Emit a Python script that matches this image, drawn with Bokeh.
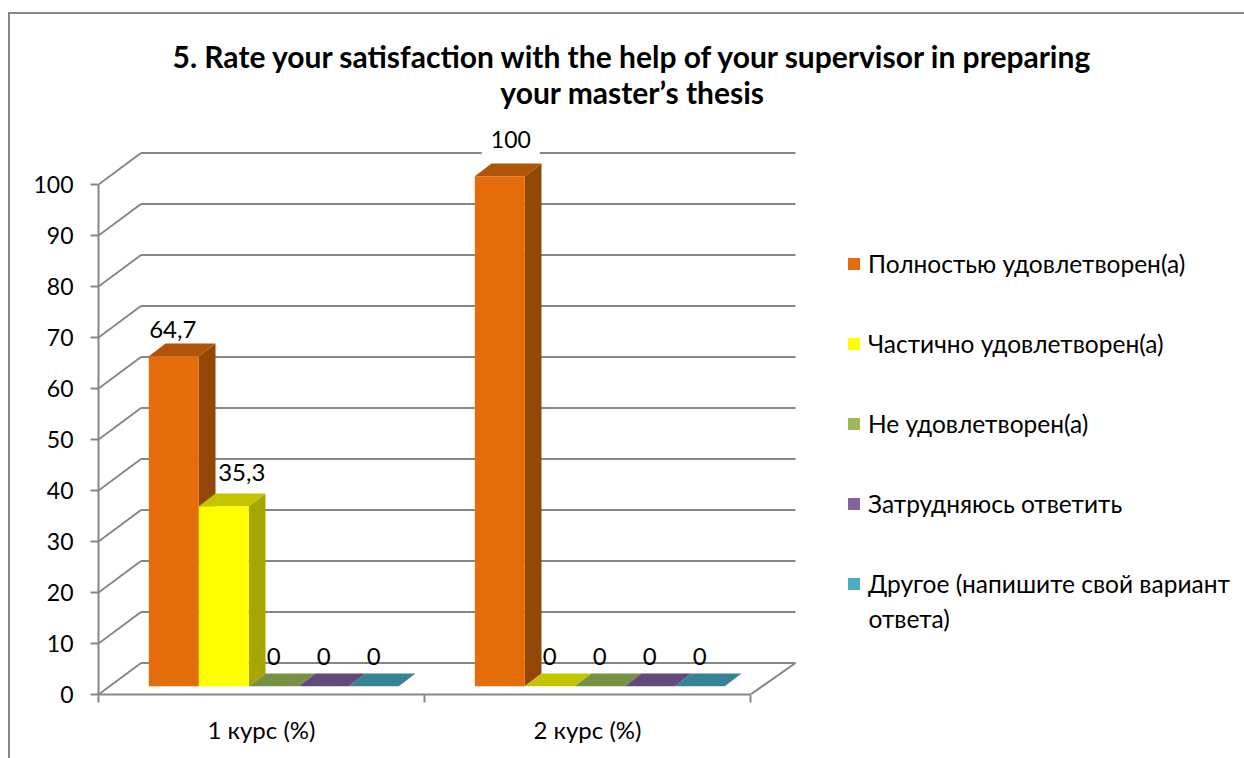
from bokeh.plotting import figure
from bokeh.models import (Range1d, FixedTicker, Legend, LegendItem, Title, InlineStyleSheet,
                          ColumnDataSource)
from bokeh.core.properties import value
from bokeh.embed import file_html
from bokeh.resources import INLINE

title_lines = ["5. Rate your satisfaction with the help of your supervisor in preparing",
               "your master\u2019s thesis"]
categories = ["1 курс (%)", "2 курс (%)"]
series_names = ["Полностью удовлетворен(а)", "Частично удовлетворен(а)", "Не удовлетворен(а)",
                "Затрудняюсь ответить", "Другое (напишите свой вариант"]
legend_wrap = "ответа)"
course1 = [64.7, 35.3, 0, 0, 0]
course2 = [100, 0, 0, 0, 0]
y_ticks = [0, 10, 20, 30, 40, 50, 60, 70, 80, 90, 100]

face = ["#E46C0A", "#FFFF00", "#9BBB59", "#8064A2", "#4BACC6"]
top = ["#B05408", "#C4C400", "#779145", "#624A7B", "#378396"]
side = ["#934707", "#A6A600", "#637A39", "#513E67", "#2E6E7F"]
GREY = "#868686"
FONT = "Lato"
FS = "24px"
LEG_FS = "24.5px"

PX_X, PX_Y = 326.0, 5.1
BAR_W = 50 / PX_X
PAD = 50.3 / PX_X
LIFT = 8.3 / PX_Y
DX, DY = 16.7 / PX_X, 12.7 / PX_Y
WX, WY = 42.5 / PX_X, 31.5 / PX_Y
RX = 45 / PX_X

p = figure(width=1244, height=758, output_backend="svg", toolbar_location=None,
           frame_width=1146, frame_height=619,
           x_range=Range1d(0, 1146 / PX_X), y_range=Range1d(0, 619 / PX_Y),
           min_border_left=98, min_border_right=0, min_border_top=75, min_border_bottom=64,
           outline_line_color=None, background_fill_color="white", border_fill_color="white")
p.grid.visible = False

# walls
p.segment([0] * len(y_ticks), y_ticks, [WX] * len(y_ticks), [v + WY for v in y_ticks],
          line_color=GREY, line_width=2)
p.segment([WX] * len(y_ticks), [v + WY for v in y_ticks], [2 + RX] * len(y_ticks),
          [v + WY for v in y_ticks], line_color=GREY, line_width=2)
p.segment([2], [0], [2 + RX], [WY], line_color=GREY, line_width=2)

legend_items = []
lab_x, lab_y, lab_t, lab_dx, lab_dy = [], [], [], [], []
# manual nudges of the data labels, in pixels
nudges = {(0, 0): (-1, -27), (0, 1): (18, -34), (1, 0): (11, -37)}
for s, name in enumerate(series_names):
    vals = [course1[s], course2[s]]
    lefts = [g + PAD + s * BAR_W for g in range(2)]
    rights = [l + BAR_W for l in lefts]
    base = LIFT
    tops = [v + base for v in vals]
    p.patches([[r, r + DX, r + DX, r] for r in rights],
              [[base, base + DY, t + DY, t] for t in tops], fill_color=side[s], line_color=None)
    p.patches([[l, r, r + DX, l + DX] for l, r in zip(lefts, rights)],
              [[t, t, t + DY, t + DY] for t in tops], fill_color=top[s], line_color=None)
    r = p.quad(left=lefts, right=rights, bottom=[base] * 2, top=tops, fill_color=face[s], line_color=None)
    legend_items.append(LegendItem(label=value(name), renderers=[r]))
    for g, v in enumerate(vals):
        lab_x.append(lefts[g] + BAR_W / 2)
        lab_y.append(tops[g])
        lab_t.append(str(v).replace(".", ",") if v else "0")
        n = nudges.get((g, s), (0, -29.7))
        lab_dx.append(n[0])
        lab_dy.append(n[1])

src = ColumnDataSource(dict(x=lab_x, y=lab_y, t=lab_t, dx=lab_dx, dy=lab_dy))
plain = ColumnDataSource({k: [c for c, t in zip(v, lab_t) if t != "100"] for k, v in src.data.items()})
masked = ColumnDataSource({k: [c for c, t in zip(v, lab_t) if t == "100"] for k, v in src.data.items()})
p.text("x", "y", text="t", source=plain, x_offset="dx", y_offset="dy", text_align="center",
       text_baseline="middle", text_font=value(FONT), text_font_size=FS, text_color="black")
p.text("x", "y", text="t", source=masked, x_offset="dx", y_offset="dy", text_align="center",
       text_baseline="middle", text_font=value(FONT), text_font_size="23px", text_color="black",
       background_fill_color="white", padding=9)

# axes
ya = p.yaxis[0]
ya.ticker = FixedTicker(ticks=y_ticks)
ya.bounds = (0, 100)
ya.major_tick_in, ya.major_tick_out = 0, 8
ya.minor_tick_line_color = None
ya.axis_line_color = ya.major_tick_line_color = GREY
ya.axis_line_width = ya.major_tick_line_width = 2
ya.major_label_standoff = 17
ya.major_label_text_font = FONT
ya.major_label_text_font_size = "23px"
ya.major_label_text_color = "black"

xa = p.xaxis[0]
xa.ticker = FixedTicker(ticks=[0.5, 1.5], minor_ticks=[0, 1, 2])
xa.major_label_overrides = {0.5: categories[0], 1.5: categories[1]}
xa.bounds = (0, 2)
xa.major_tick_in, xa.major_tick_out = 0, 0
xa.minor_tick_in, xa.minor_tick_out = 0, 8
xa.axis_line_color = xa.minor_tick_line_color = GREY
xa.axis_line_width = xa.minor_tick_line_width = 2
xa.major_label_standoff = 12
xa.major_label_text_font = FONT
xa.major_label_text_font_size = FS
xa.major_label_text_color = "black"

legend = Legend(items=legend_items, location=(748, 96), orientation="vertical",
                glyph_width=15, glyph_height=15, spacing=51, label_standoff=7, margin=0, padding=0,
                label_text_font=FONT, label_text_font_size=LEG_FS, label_text_color="black",
                border_line_color=None, background_fill_color=None, background_fill_alpha=0)
p.add_layout(legend, "center")
p.text([(868 - 98) / PX_X], [(694 - 618) / PX_Y], text=[legend_wrap], text_align="left", text_baseline="middle",
       text_font=value(FONT), text_font_size=LEG_FS, text_color="black")

# the title's second line sits closer than a stacked Title would allow
p.add_layout(Title(text=title_lines[0], align="left", offset=74, text_font=FONT, text_font_size="30px",
                   text_font_style="bold", text_color="black", standoff=4), "above")
p.text([(632 - 98) / PX_X], [(694 - 91.5) / PX_Y], text=[title_lines[1]], text_align="center", text_baseline="middle",
       text_font=value(FONT), text_font_size="30px", text_font_style="bold", text_color="black")

# chart border: left and top edges only, the other two run past the page
p.stylesheets = [InlineStyleSheet(css=(
    ":host{position:relative}"
    ":host::after{content:'';position:absolute;left:8px;top:12px;width:1236px;height:746px;"
    f"border-left:2px solid {GREY};border-top:2px solid {GREY};box-sizing:border-box;"
    "pointer-events:none;z-index:5}"))]

open("out.html", "w").write(file_html(p, INLINE))
